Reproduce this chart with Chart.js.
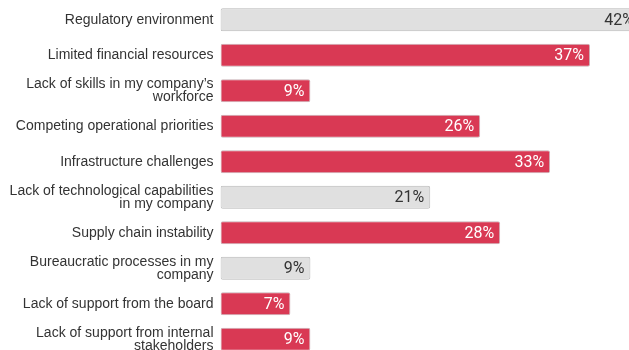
<!DOCTYPE html>
<html>
<head>
<meta charset="utf-8">
<script src="https://cdn.jsdelivr.net/npm/chart.js@4"></script>
<style>
    html, body {
        margin: 0;
        padding: 0;
        background: #ffffff;
        overflow: hidden;
    }
    #wrap {
        position: relative;
        width: 640px;
        height: 362px;
    }
</style>
</head>
<body>
<div id="wrap"><canvas id="barriersChart"></canvas></div>
<script>
const categories = [
    'Regulatory environment',
    'Limited financial resources',
    ['Lack of skills in my company\u2019s', 'workforce'],
    'Competing operational priorities',
    'Infrastructure challenges',
    ['Lack of technological capabilities', 'in my company'],
    'Supply chain instability',
    ['Bureaucratic processes in my', 'company'],
    'Lack of support from the board',
    ['Lack of support from internal', 'stakeholders']
];

const shares = [42, 37, 9, 26, 33, 21, 28, 9, 7, 9];

// true = neutral grey bar, false = highlighted red bar
const greyed = [true, false, false, false, false, true, false, true, false, false];

const RED = '#d93954';
const GREY = '#e0e0e0';

const valueLabels = {
    id: 'valueLabels',
    afterDatasetsDraw(chart) {
        const ctx = chart.ctx;
        const meta = chart.getDatasetMeta(0);
        ctx.save();
        ctx.font = '16px Roboto';
        ctx.textAlign = 'right';
        ctx.textBaseline = 'middle';
        meta.data.forEach((bar, i) => {
            ctx.fillStyle = greyed[i] ? '#333333' : '#ffffff';
            ctx.fillText(shares[i] + '%', bar.x - 6, bar.y + 1);
        });
        ctx.restore();
    }
};

const ctx = document.getElementById('barriersChart').getContext('2d');

new Chart(ctx, {
    type: 'bar',
    data: {
        labels: categories,
        datasets: [{
            data: shares,
            backgroundColor: greyed.map(g => g ? GREY : RED),
            borderColor: greyed.map(g => g ? '#b8b8b8' : '#c9b0b5'),
            borderWidth: 1,
            borderRadius: 2,
            borderSkipped: false,
            barPercentage: 0.65,
            categoryPercentage: 1
        }]
    },
    options: {
        indexAxis: 'y',
        responsive: true,
        maintainAspectRatio: false,
        animation: false,
        layout: {
            padding: { top: 2, right: 0, bottom: 5, left: 0 }
        },
        plugins: {
            legend: { display: false },
            tooltip: { enabled: false }
        },
        scales: {
            x: {
                display: false,
                min: 0,
                max: 42
            },
            y: {
                grid: { display: false, drawTicks: false },
                border: { display: false },
                afterFit: (scale) => {
                    scale.width = 220.5;
                    // labels sit inside their category band, no extra room needed
                    scale.paddingTop = 0;
                    scale.paddingBottom = 0;
                },
                ticks: {
                    color: '#333333',
                    padding: 7,
                    font: {
                        family: '"Liberation Sans", Arial, sans-serif',
                        size: 14,
                        lineHeight: 0.93
                    }
                }
            }
        }
    },
    plugins: [valueLabels]
});
</script>
</body>
</html>
